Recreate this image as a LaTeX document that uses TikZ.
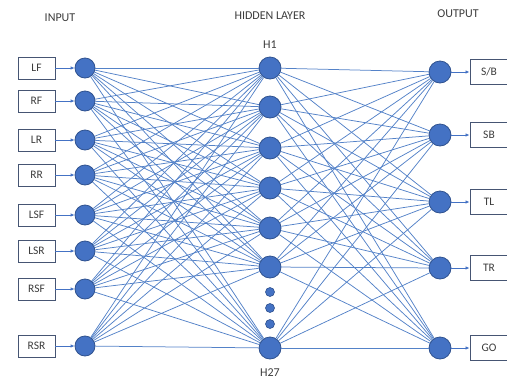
\documentclass[tikz,border=0pt]{standalone}
\usepackage{fontspec}
\setmainfont{Carlito}
\usetikzlibrary{arrows.meta}
\definecolor{nodeblue}{RGB}{68,114,196}
\definecolor{nodeedge}{RGB}{47,82,143}
\definecolor{wireblue}{RGB}{84,130,200}
\definecolor{boxedge}{RGB}{70,85,115}
\definecolor{labelgray}{RGB}{60,60,60}
\tikzset{
  neuron/.style={circle, fill=nodeblue, draw=nodeedge, line width=0.8pt, minimum size=20pt, inner sep=0pt},
  dotnode/.style={circle, fill=nodeblue, draw=nodeedge, line width=0.6pt, minimum size=9pt, inner sep=0pt},
  iobox/.style={draw=boxedge, line width=0.9pt, minimum width=37pt, minimum height=22pt, inner sep=0pt, text=labelgray, font=\fontsize{11.5}{13}\selectfont},
  heading/.style={text=labelgray, font=\fontsize{12}{14}\selectfont},
  wire/.style={draw=wireblue, line width=0.75pt},
  feed/.style={draw=nodeblue, line width=0.8pt, -{Latex[length=4pt,width=3.5pt]}}
}
\begin{document}
\begin{tikzpicture}[x=1pt, y=-1pt]
   \useasboundingbox (0,0) rectangle (507,381);
   \node[heading] (inhead) at (60,18) {INPUT};
   \node[heading] (hidhead) at (270,16) {HIDDEN LAYER};
   \node[heading] (outhead) at (458,14) {OUTPUT};
   \foreach \i/\y/\txt in {1/68/LF, 2/101/RF, 3/140/LR, 4/175/RR, 5/215/LSF, 6/251/LSR, 7/289/RSF, 8/346/RSR} {
     \node[iobox] (ib\i) at (36.5,\y) {\txt};
     \node[neuron] (in\i) at (85,\y) {};
     \draw[feed] (ib\i) -- (in\i);
   }
   \foreach \j/\y in {1/68, 2/107, 3/148, 4/188, 5/228, 6/267, 7/348}
     \node[neuron, minimum size=22pt] (hid\j) at (270,\y) {};
   \foreach \k/\y in {1/292, 2/308, 3/324}
     \node[dotnode] (gap\k) at (270,\y) {};
   \node[heading] (hidfirst) at (270,45) {H1};
   \node[heading] (hidlast) at (270,373) {H27};
   \foreach \k/\y/\txt in {1/72/{S/B}, 2/135/SB, 3/202/TL, 4/268/TR, 5/348/GO} {
     \node[neuron, minimum size=22pt] (out\k) at (440,\y) {};
     \node[iobox, minimum height=25pt, minimum width=38pt] (ob\k) at (489,\y) {\txt};
     \draw[feed] (out\k) -- (ob\k);
   }
   \foreach \i in {1,...,8}
     \foreach \j in {1,...,7}
       \draw[wire] (in\i) -- (hid\j);
   \foreach \j in {1,...,7}
     \foreach \k in {1,...,5}
       \draw[wire] (hid\j) -- (out\k);
\end{tikzpicture}
\end{document}
